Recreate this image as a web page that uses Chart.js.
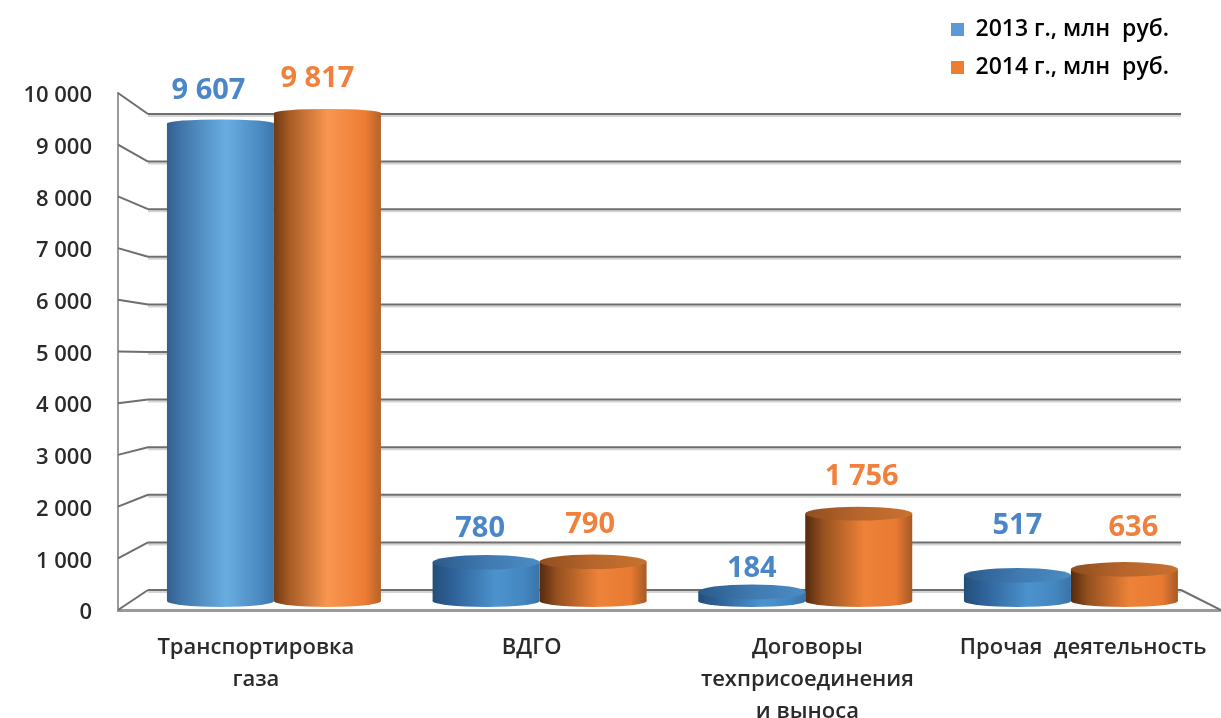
<!DOCTYPE html>
<html>
<head>
<meta charset="utf-8">
<script src="https://cdn.jsdelivr.net/npm/chart.js@4"></script>
<style>
  body { margin: 0; background: #fff; }
  canvas { display: block; filter: blur(0.5px); }
</style>
</head>
<body>
<canvas id="chart" width="1221" height="718"></canvas>
<script>
const categories = [['Транспортировка', 'газа'], 'ВДГО', ['Договоры', 'техприсоединения', 'и выноса'], 'Прочая  деятельность'];
const seriesNames = ['2013 г., млн  руб.', '2014 г., млн  руб.'];
const values2013 = [9607, 780, 184, 517];
const values2014 = [9817, 790, 1756, 636];
const yTicks = [0, 1000, 2000, 3000, 4000, 5000, 6000, 7000, 8000, 9000, 10000];

// the value labels were placed by hand in the original: lift above the bar, shift from its middle
const labelLift = [[33, 34, 23, 50], [34, 37, 37, 42]];
const labelShift = [[-12, -6, 0, 0], [-10, -3, 3, 9]];
const labelColors = ['#4a86c8', '#f0813c'];
const legendColors = ['#5b9bd5', '#ed7d31'];
const sideStops = [
  [[0, '#33608d'], [0.12, '#3f74a8'], [0.55, '#68ade0'], [0.85, '#4c8cc4'], [1, '#3d78ae']],
  [[0, '#6f3a14'], [0.14, '#a65a25'], [0.5, '#f99650'], [0.85, '#ee7c33'], [1, '#b3632a']]
];
// low bars are darker
const shortStops = [
  [[0, '#234e7a'], [0.2, '#2f639a'], [0.6, '#4c93ce'], [0.85, '#4487c0'], [1, '#3a73a8']],
  [[0, '#55290e'], [0.16, '#94501f'], [0.55, '#ee8238'], [0.85, '#e87a32'], [1, '#a65a26']]
];
const capStops = [
  [[0, '#2b5a8a'], [0.5, '#3f79b0'], [1, '#4c8cc4']],
  [[0, '#8f4e1e'], [0.5, '#b7652c'], [1, '#c8722f']]
];
const allValues = [values2013, values2014];

const barShare = 0.8055;

function formatNumber(v) {
  return String(v).replace(/\B(?=(\d{3})+$)/g, ' ');
}

function gradient(ctx, left, right, stops) {
  const g = ctx.createLinearGradient(left, 0, right, 0);
  stops.forEach(s => g.addColorStop(s[0], s[1]));
  return g;
}

function barWidth(chart) {
  const s = chart.scales.xBar;
  return (s.getPixelForValue(1) - s.getPixelForValue(0)) * barShare / 2;
}

function stopsFor(i, j) {
  return allValues[i][j] > 5000 ? sideStops[i] : shortStops[i];
}

// side of the cylinder, the bar itself
function sideFill(c) {
  const w = barWidth(c.chart);
  const mid = c.chart.scales.xBar.getPixelForValue(c.dataIndex);
  const left = c.datasetIndex === 0 ? mid - w : mid;
  return gradient(c.chart.ctx, left, left + w, stopsFor(c.datasetIndex, c.dataIndex));
}

function drawEllipse(ctx, x, y, w, ry, fill) {
  ctx.fillStyle = fill;
  ctx.beginPath();
  ctx.ellipse(x, y, w / 2, ry, 0, 0, Math.PI * 2);
  ctx.fill();
}

function line(ctx, x1, y1, x2, y2) {
  ctx.beginPath();
  ctx.moveTo(x1, y1);
  ctx.lineTo(x2, y2);
  ctx.stroke();
}

// back wall, floor and the round bottoms go under the bars
const wallPlugin = {
  id: 'wall',
  beforeDatasetsDraw(chart) {
    const ctx = chart.ctx;
    const front = chart.scales.y;
    const back = chart.scales.yBack;
    const a = chart.chartArea;
    const backLeft = a.left + 30;
    const backRight = a.right - 40;
    ctx.save();
    yTicks.forEach(v => {
      const yf = front.getPixelForValue(v);
      const yb = back.getPixelForValue(v);
      ctx.lineWidth = 2;
      ctx.strokeStyle = '#d4d4d4';
      line(ctx, backLeft, yb + 2, backRight, yb + 2);
      ctx.strokeStyle = '#6e6e6e';
      line(ctx, a.left, yf, backLeft, yb);
      line(ctx, backLeft, yb, backRight, yb);
    });
    line(ctx, backRight, back.getPixelForValue(0), a.right, front.getPixelForValue(0));
    chart.data.datasets.forEach((ds, i) => {
      chart.getDatasetMeta(i).data.forEach((bar, j) => {
        drawEllipse(ctx, bar.x, bar.base, bar.width, 6, gradient(ctx, bar.x - bar.width / 2, bar.x + bar.width / 2, stopsFor(i, j)));
      });
    });
    ctx.restore();
  },
  afterDatasetsDraw(chart) {
    const ctx = chart.ctx;
    ctx.save();
    chart.data.datasets.forEach((ds, i) => {
      chart.getDatasetMeta(i).data.forEach((bar, j) => {
        const v = ds.data[j].y;
        // seen from low down, the top flattens as the bar gets taller
        const ry = 7.5 - 3.5 * v / 10000;
        const stops = v > 5000 ? sideStops[i] : capStops[i];
        drawEllipse(ctx, bar.x, bar.y, bar.width, ry, gradient(ctx, bar.x - bar.width / 2, bar.x + bar.width / 2, stops));
        ctx.fillStyle = labelColors[i];
        ctx.font = '700 29px "Open Sans"';
        ctx.textAlign = 'center';
        ctx.textBaseline = 'middle';
        ctx.fillText(formatNumber(v), bar.x + labelShift[i][j], bar.y - labelLift[i][j]);
      });
    });
    ctx.restore();
  },
  // the legend stays in the top right corner, above the plot
  beforeDraw(chart) {
    const l = chart.legend;
    l.left = 936;
    l.right = 1221;
    l.top = 3;
    l.bottom = 200;
  }
};

new Chart(document.getElementById('chart'), {
  type: 'bar',
  data: {
    datasets: [
      { label: seriesNames[0], data: values2013.map((v, i) => ({ x: i, y: v })), backgroundColor: sideFill, xAxisID: 'xBar', yAxisID: 'yBar', categoryPercentage: barShare, barPercentage: 1 },
      { label: seriesNames[1], data: values2014.map((v, i) => ({ x: i, y: v })), backgroundColor: sideFill, xAxisID: 'xBar', yAxisID: 'yBar', categoryPercentage: barShare, barPercentage: 1 }
    ]
  },
  plugins: [wallPlugin],
  options: {
    responsive: false,
    animation: false,
    layout: { padding: { top: 93 } },
    plugins: {
      tooltip: { enabled: false },
      legend: {
        position: 'chartArea',
        align: 'start',
        labels: {
          boxWidth: 13,
          boxHeight: 13,
          padding: 15,
          color: '#2a2a2a',
          font: { family: 'Open Sans', size: 23, weight: '600' },
          generateLabels: () => seriesNames.map((text, i) => ({ text, fillStyle: legendColors[i], lineWidth: 0, strokeStyle: legendColors[i], datasetIndex: i }))
        }
      }
    },
    scales: {
      // front edge of the box: carries the labels
      y: {
        position: 'left',
        min: 0,
        max: 10000,
        grid: { display: false, drawTicks: false },
        border: { color: '#9a9a9a', width: 2 },
        ticks: { stepSize: 1000, padding: 26, labelOffset: 3, color: '#2a2a2a', font: { family: 'Open Sans', size: 22, weight: '600' }, callback: formatNumber },
        afterFit: s => { s.width = 118; }
      },
      x: {
        type: 'category',
        position: 'bottom',
        labels: categories,
        offset: true,
        grid: { display: false, drawTicks: false },
        border: { color: '#9a9a9a', width: 3 },
        ticks: { padding: 22, maxRotation: 0, autoSkip: false, color: '#2a2a2a', font: { family: 'Open Sans', size: 22, weight: '600', lineHeight: 1.45 } },
        afterFit: s => { s.height = 108; s.paddingLeft = 0; s.paddingRight = 0; }
      },
      // the bars stand in the middle of the box, gridlines are on its back wall
      xBar: {
        type: 'linear',
        axis: 'x',
        display: false,
        offset: false,
        min: -0.587,
        max: 3.565,
        ticks: { stepSize: 1 },
        // the end ticks would make chart.js think the bars have less room
        afterBuildTicks: s => { s.ticks = s.ticks.filter(t => Number.isInteger(t.value)); }
      },
      yBar: { type: 'linear', axis: 'y', display: false, min: -181, max: 10221 },
      yBack: { type: 'linear', axis: 'y', display: false, min: -420, max: 10441 }
    }
  }
});
</script>
</body>
</html>
